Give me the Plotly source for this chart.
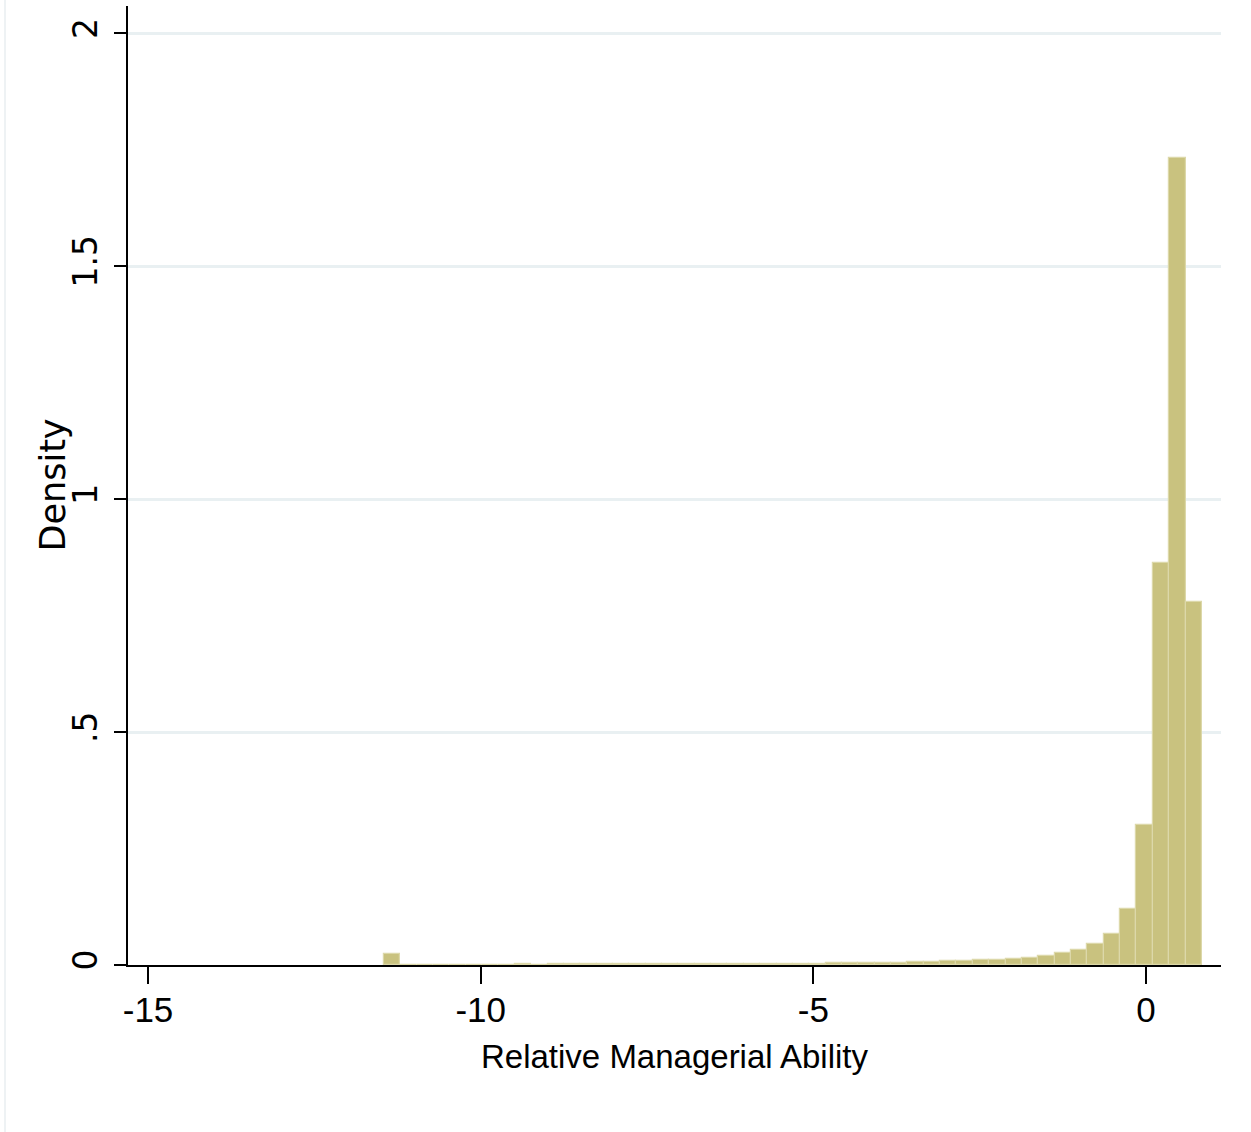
import plotly.graph_objects as go

# Histogram of relative managerial ability (density scale, 50 equal-width bins)
bin_start = -11.455
bin_width = 0.2459
density = [
    0.0236, 0.0010, 0.0009, 0.0009, 0.0010, 0.0010, 0.0009, 0.0010, 0.0011, 0.0010,
    0.0011, 0.0012, 0.0012, 0.0013, 0.0013, 0.0014, 0.0015, 0.0016, 0.0017, 0.0019,
    0.0020, 0.0022, 0.0024, 0.0025, 0.0027, 0.0029, 0.0031, 0.0034, 0.0038, 0.0042,
    0.0047, 0.0052, 0.0057, 0.0064, 0.0079, 0.0086, 0.0100, 0.0107, 0.0122, 0.0143,
    0.0186, 0.0251, 0.0330, 0.0444, 0.0665, 0.1200, 0.3006, 0.8620, 1.7320, 0.7800,
]

x_ticks = [-15, -10, -5, 0]
x_tick_text = ["-15", "-10", "-5", "0"]
y_ticks = [0, 0.5, 1, 1.5, 2]
y_tick_text = ["0", ".5", "1", "1.5", "2"]

centers = [bin_start + bin_width * (i + 0.5) for i in range(len(density))]

W, H = 1251, 1132
left, right, top, bottom = 128, 30, 6, 167

fig = go.Figure()
fig.add_trace(go.Bar(
    x=centers,
    y=density,
    width=[bin_width] * len(density),
    marker=dict(color="#c9c27f", line=dict(color="#dcd8a9", width=1.2)),
    hoverinfo="x+y",
))

sans = "Liberation Sans, Arial, sans-serif"
wide = "DejaVu Sans, Verdana, sans-serif"

plot_w = W - left - right
plot_h = H - top - bottom

fig.update_layout(
    width=W,
    height=H,
    margin=dict(l=left, r=right, t=top, b=bottom, pad=0),
    paper_bgcolor="white",
    plot_bgcolor="white",
    showlegend=False,
    bargap=0,
    xaxis=dict(
        range=[(128 - 1146) / 66.53, (1221 - 1146) / 66.53],
        tickvals=x_ticks,
        ticktext=x_tick_text,
        ticks="outside",
        ticklen=17,
        tickwidth=2,
        tickcolor="black",
        showline=True,
        linewidth=2,
        linecolor="black",
        showgrid=False,
        zeroline=False,
        tickfont=dict(family=sans, size=35, color="black"),
        ticklabelstandoff=-4,
        title=dict(text="Relative Managerial Ability",
                   font=dict(family=sans, size=33, color="black"),
                   standoff=17),
    ),
    yaxis=dict(
        range=[0, 959 / 465.8],
        tickvals=y_ticks,
        ticktext=y_tick_text,
        tickangle=-90,
        ticks="outside",
        ticklen=12,
        tickwidth=2,
        tickcolor="black",
        showline=True,
        linewidth=2,
        linecolor="black",
        showgrid=True,
        gridcolor="#e9f0f2",
        gridwidth=3,
        zeroline=False,
        tickfont=dict(family=wide, size=33, color="black"),
        ticklabelstandoff=4,
    ),
    annotations=[
        # y axis title
        dict(text="Density", xref="paper", yref="paper",
             x=(52 - left) / plot_w, y=0.5, xanchor="center", yanchor="middle",
             textangle=-90, showarrow=False,
             font=dict(family=wide, size=35, color="black")),
    ],
    shapes=[
        # x axis line continues under the y tick marks
        dict(type="line", xref="paper", yref="paper",
             x0=(115 - left) / plot_w, x1=0, y0=0, y1=0,
             line=dict(color="black", width=2)),
        # faint outer frame edge on the left
        dict(type="line", xref="paper", yref="paper",
             x0=(5 - left) / plot_w, x1=(5 - left) / plot_w,
             y0=-bottom / plot_h, y1=1 + top / plot_h,
             line=dict(color="#eef2f4", width=2)),
    ],
)

fig.write_html("out.html")
